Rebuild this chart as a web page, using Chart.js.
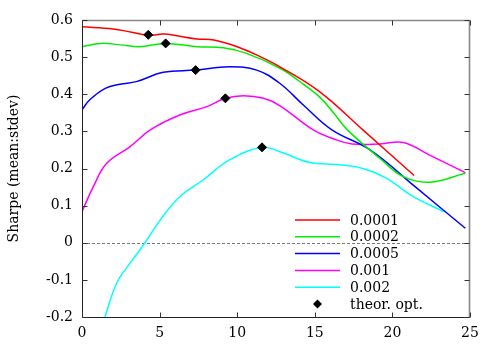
<!DOCTYPE html>
<html>
<head>
<meta charset="utf-8">
<script src="https://cdn.jsdelivr.net/npm/chart.js@4"></script>
<style>
  html, body { margin: 0; padding: 0; background: #fff; }
  #wrap { width: 500px; height: 350px; }
</style>
</head>
<body>
<div id="wrap"><canvas id="sharpe"></canvas></div>
<script>
// ---- data ----
const X_TICKS = [0, 5, 10, 15, 20, 25];
const Y_TICKS = [-0.2, -0.1, 0, 0.1, 0.2, 0.3, 0.4, 0.5, 0.6];

const LABELS = ['0.0001', '0.0002', '0.0005', '0.001', '0.002'];
const COLORS = ['#ff0000', '#00ee00', '#0000ff', '#ff00ff', '#00ffff'];

const X_0001 = [0, 2, 3.2, 4.3, 5.3, 7.4, 8.5, 10, 11.5, 12.75, 15.3, 18.1, 21.4];
const Y_0001 = [0.582, 0.576, 0.567, 0.559, 0.562, 0.549, 0.546, 0.528, 0.501, 0.474, 0.407, 0.304, 0.181];

const X_0002 = [0, 1.2, 2.5, 3.7, 5.39, 7.4, 9.1, 10.6, 12.76, 14.0, 15.3, 16.2, 17.1, 19.2, 20.7, 22.4, 24.7];
const Y_0002 = [0.528, 0.537, 0.533, 0.528, 0.537, 0.528, 0.525, 0.510, 0.470, 0.435, 0.393, 0.350, 0.304, 0.227, 0.178, 0.163, 0.187];

const X_0005 = [0, 0.5, 1.5, 2.45, 3.5, 5.24, 7.32, 9.5, 11.26, 12.76, 14.26, 16.1, 18.56, 21.46, 24.7];
const Y_0005 = [0.358, 0.385, 0.416, 0.427, 0.434, 0.459, 0.465, 0.474, 0.465, 0.429, 0.371, 0.304, 0.250, 0.151, 0.039];

const X_001 = [0, 0.73, 1.59, 3.1, 4.4, 6.3, 8.0, 9.24, 10.4, 11.7, 12.76, 14.9, 16.4, 17.4, 19.2, 20.7, 22.4, 24.7];
const Y_001 = [0.084, 0.151, 0.214, 0.259, 0.304, 0.344, 0.366, 0.389, 0.396, 0.389, 0.369, 0.304, 0.277, 0.266, 0.266, 0.270, 0.236, 0.189];

const X_002 = [1.48, 2.23, 3.1, 4.06, 5.03, 6.3, 7.8, 9.5, 11.6, 12.76, 14.7, 16.4, 18.1, 19.6, 21.35, 23.3];
const Y_002 = [-0.2, -0.109, -0.055, 0.0, 0.061, 0.124, 0.169, 0.223, 0.257, 0.245, 0.216, 0.211, 0.200, 0.174, 0.124, 0.084];

const OPT_X = [4.27, 5.39, 7.32, 9.24, 11.6];
const OPT_Y = [0.560, 0.537, 0.465, 0.389, 0.257];

const SERIES_X = [X_0001, X_0002, X_0005, X_001, X_002];
const SERIES_Y = [Y_0001, Y_0002, Y_0005, Y_001, Y_002];

const FONT = "'DejaVu Serif', serif";
Chart.defaults.font.family = FONT;
Chart.defaults.font.size = 14;
Chart.defaults.color = '#000';

const zip = (xs, ys) => xs.map((x, i) => ({ x, y: ys[i] }));

const lineSets = LABELS.map((label, i) => ({
  label,
  data: zip(SERIES_X[i], SERIES_Y[i]),
  showLine: true,
  borderColor: COLORS[i],
  borderWidth: 1.5,
  pointRadius: 0,
  tension: 0.4,
  fill: false,
  order: 1,
}));

const optSet = {
  label: 'theor. opt.',
  isOpt: true,
  data: zip(OPT_X, OPT_Y),
  showLine: false,
  pointStyle: 'rectRot',
  pointRadius: 4.5,
  pointBackgroundColor: '#000',
  pointBorderColor: '#000',
  borderColor: '#000',
  order: 0,
};

// dashed zero line, behind the curves
const zeroLine = {
  id: 'zeroLine',
  beforeDatasetsDraw(chart) {
    const { ctx, chartArea: a, scales: { y } } = chart;
    const py = Math.round(y.getPixelForValue(0)) + 0.5;
    ctx.save();
    ctx.strokeStyle = '#555';
    ctx.lineWidth = 0.8;
    ctx.setLineDash([3, 2]);
    ctx.beginPath();
    ctx.moveTo(a.left, py);
    ctx.lineTo(a.right, py);
    ctx.stroke();
    ctx.restore();
  },
};

// gnuplot style frame with inward ticks
const frame = {
  id: 'frame',
  afterDraw(chart) {
    const { ctx, chartArea: a, scales: { x, y } } = chart;
    const L = Math.round(a.left) + 0.5, R = Math.round(a.right) - 0.5;
    const T = Math.round(a.top) + 0.5, B = Math.round(a.bottom) + 0.5;
    ctx.save();
    ctx.lineWidth = 1.6;
    ctx.strokeStyle = '#888';
    ctx.beginPath();
    ctx.moveTo(L, T); ctx.lineTo(R, T); ctx.lineTo(R, B);
    ctx.stroke();
    ctx.lineWidth = 1;
    ctx.strokeStyle = '#222';
    ctx.beginPath();
    ctx.moveTo(L, T); ctx.lineTo(L, B); ctx.lineTo(R, B);
    ctx.stroke();
    ctx.strokeStyle = '#333';
    ctx.beginPath();
    x.ticks.forEach(t => {
      const px = Math.round(x.getPixelForValue(t.value)) + 0.5;
      ctx.moveTo(px, B); ctx.lineTo(px, B - 5);
      ctx.moveTo(px, T); ctx.lineTo(px, T + 5);
    });
    y.ticks.forEach(t => {
      const py = Math.round(y.getPixelForValue(t.value)) + 0.5;
      ctx.moveTo(L, py); ctx.lineTo(L + 5, py);
      ctx.moveTo(R, py); ctx.lineTo(R - 5, py);
    });
    ctx.stroke();
    ctx.restore();
  },
};

// legend in the lower right, lines left of the text
const keyBox = {
  id: 'keyBox',
  afterDraw(chart) {
    const { ctx } = chart;
    const x0 = 295, x1 = 340, tx = 350, top = 220, step = 16.8;
    ctx.save();
    ctx.font = '14px ' + FONT;
    ctx.textBaseline = 'middle';
    ctx.fillStyle = '#000';
    chart.data.datasets.forEach((ds, i) => {
      const row = ds.isOpt ? LABELS.length : i - 1;
      const cy = top + row * step;
      if (ds.isOpt) {
        const cx = (x0 + x1) / 2;
        ctx.beginPath();
        ctx.moveTo(cx, cy - 4.5); ctx.lineTo(cx + 4.5, cy);
        ctx.lineTo(cx, cy + 4.5); ctx.lineTo(cx - 4.5, cy);
        ctx.closePath();
        ctx.fill();
      } else {
        ctx.strokeStyle = ds.borderColor;
        ctx.lineWidth = 1.5;
        ctx.beginPath();
        ctx.moveTo(x0, cy); ctx.lineTo(x1, cy);
        ctx.stroke();
      }
      ctx.fillText(ds.label, tx, cy + 1);
    });
    ctx.restore();
  },
};

new Chart(document.getElementById('sharpe'), {
  type: 'scatter',
  data: { datasets: [optSet, ...lineSets] },
  plugins: [zeroLine, frame, keyBox],
  options: {
    responsive: true,
    maintainAspectRatio: false,
    animation: false,
    layout: { padding: { left: 0, right: 30, top: 20, bottom: 0 } },
    plugins: { legend: { display: false }, tooltip: { enabled: false } },
    scales: {
      x: {
        type: 'linear',
        min: X_TICKS[0],
        max: X_TICKS[X_TICKS.length - 1],
        afterBuildTicks: s => { s.ticks = X_TICKS.map(v => ({ value: v })); },
        afterFit: s => { s.height = 33; },
        grid: { display: false, drawTicks: false },
        border: { display: false },
        ticks: { color: '#000', padding: 8, font: { family: FONT, size: 14 }, maxRotation: 0 },
      },
      y: {
        min: Y_TICKS[0],
        max: Y_TICKS[Y_TICKS.length - 1],
        afterBuildTicks: s => { s.ticks = Y_TICKS.map(v => ({ value: v })); },
        afterFit: s => { s.width = 82; },
        grid: { display: false, drawTicks: false },
        border: { display: false },
        ticks: {
          color: '#000',
          padding: 9,
          font: { family: FONT, size: 14 },
          callback: v => String(Math.round(v * 10) / 10),
        },
        title: {
          display: true,
          text: 'Sharpe (mean:stdev)',
          color: '#000',
          font: { family: FONT, size: 14 },
          padding: { top: 6, bottom: 0 },
        },
      },
    },
  },
});
</script>
</body>
</html>
